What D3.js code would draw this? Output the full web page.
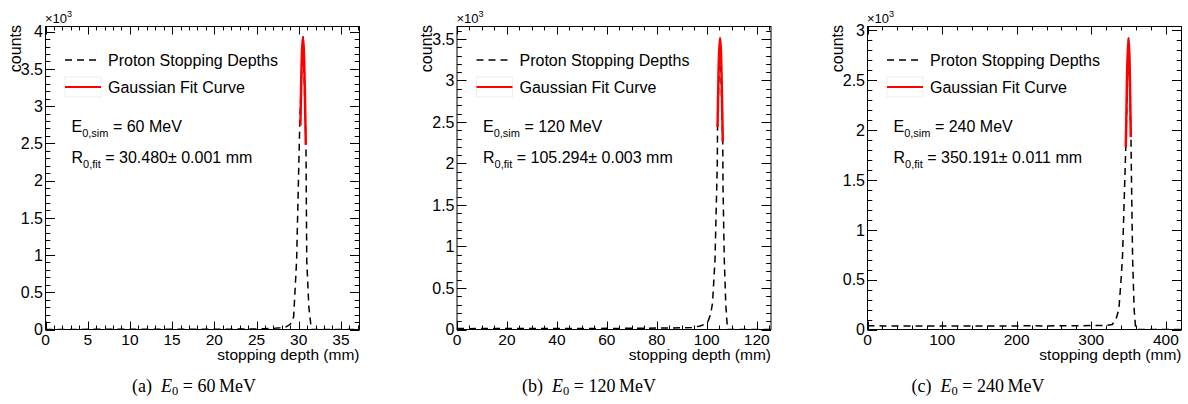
<!DOCTYPE html>
<html>
<head>
<meta charset="utf-8">
<script src="https://cdn.jsdelivr.net/npm/d3@7"></script>
<style>
  html, body { margin: 0; padding: 0; background: #fff; }
  svg { display: block; }
  text { font-family: "Liberation Sans", Arial, Helvetica, sans-serif; fill: #000; }
  .cap { font-family: "Liberation Serif", "DejaVu Serif", serif; }
</style>
</head>
<body>
<svg id="chart" width="1188" height="404"></svg>
<script>
// ---------- data (counts in units of 10^3) ----------
const panelLetters = ["a", "b", "c"];
const energies = [60, 120, 240];            // MeV
const fitRanges = ["30.480", "105.294", "350.191"];
const fitErrors = ["0.001", "0.003", "0.011"];
const xMax = [37.2, 125.7, 421];
const yMax = [4.07, 3.65, 3.04];
const xMajorStep = [5, 20, 100];
const xMinorStep = [1, 5, 20];
const yMajorStep = [0.5, 0.5, 0.5];
const yMinorStep = [0.1, 0.1, 0.1];

// (a) 60 MeV stopping depth histogram
const depthA  = [0, 3, 6, 9, 12, 15, 18, 20, 22, 24, 25, 26, 27, 27.8, 28.5, 29.0, 29.4, 29.75, 30.13, 30.52, 30.86, 30.95, 31.2, 31.5, 37.2];
const countsA = [0.001, 0.001, 0.002, 0.002, 0.002, 0.003, 0.003, 0.004, 0.005, 0.006, 0.007, 0.01, 0.015, 0.022, 0.035, 0.07, 0.17, 0.93, 2.8, 3.94, 2.45, 0.93, 0.3, 0.0, 0.0];
const fitDepthA  = [30.2, 30.3, 30.4, 30.5, 30.6, 30.7, 30.8, 30.84];
const fitCountsA = [2.74, 3.34, 3.77, 3.92, 3.77, 3.34, 2.74, 2.48];

// (b) 120 MeV
const depthB  = [0, 5, 10, 15, 20, 25, 30, 35, 40, 45, 50, 55, 60, 65, 70, 75, 80, 85, 90, 94, 97, 99, 100.5, 101.5, 102.3, 103.3, 104.2, 104.3, 105.3, 106.4, 106.5, 107.0, 107.6, 108.3, 125.7];
const countsB = [0.012, 0.010, 0.012, 0.011, 0.012, 0.011, 0.013, 0.012, 0.013, 0.012, 0.013, 0.013, 0.014, 0.013, 0.015, 0.015, 0.017, 0.018, 0.02, 0.025, 0.04, 0.06, 0.1, 0.18, 0.32, 0.85, 2.0, 2.45, 3.51, 2.23, 1.7, 0.84, 0.3, 0.0, 0.0];
const fitDepthB  = [104.3, 104.6, 104.9, 105.3, 105.6, 105.9, 106.2, 106.4];
const fitCountsB = [2.44, 2.93, 3.31, 3.51, 3.40, 3.08, 2.61, 2.26];

// (c) 240 MeV
const depthC  = [0, 20, 40, 60, 80, 100, 120, 140, 160, 180, 200, 220, 240, 260, 280, 300, 320, 328, 333, 337, 340, 342, 346.3, 350, 353.2, 354.5, 355.5, 357.5, 359.7, 421];
const countsC = [0.038, 0.036, 0.036, 0.035, 0.036, 0.036, 0.035, 0.036, 0.035, 0.036, 0.036, 0.037, 0.036, 0.037, 0.038, 0.039, 0.04, 0.05, 0.1, 0.2, 0.5, 0.75, 1.83, 2.93, 1.93, 1.2, 0.7, 0.2, 0.0, 0.0];
const fitDepthC  = [346.3, 347.3, 348.3, 349.9, 351.0, 352.0, 353.0];
const fitCountsC = [1.83, 2.23, 2.64, 2.92, 2.78, 2.45, 1.93];

const histX = [depthA, depthB, depthC];
const histY = [countsA, countsB, countsC];
const fitX = [fitDepthA, fitDepthB, fitDepthC];
const fitY = [fitCountsA, fitCountsB, fitCountsC];

const legendLabels = ["Proton Stopping Depths", "Gaussian Fit Curve"];
const xTitle = "stopping depth (mm)";
const yTitle = "counts";

// ---------- layout ----------
const frameLeft = [45.5, 457, 867.5];
const frameW = 314;
const frameTop = 26.5;
const frameBottom = 329.5;
const captionX = [194, 589, 978];

const svg = d3.select("#chart");

function ticksRange(step, max) {
  const out = [];
  const n = Math.floor(max / step + 1e-9);
  for (let i = 0; i <= n; i++) out.push(+(i * step).toFixed(6));
  return out;
}

for (let p = 0; p < 3; p++) {
  const L = frameLeft[p], R = L + frameW;
  const x = d3.scaleLinear().domain([0, xMax[p]]).range([L, R]);
  const y = d3.scaleLinear().domain([0, yMax[p]]).range([frameBottom, frameTop]);
  const g = svg.append("g");

  // ticks
  const xMaj = ticksRange(xMajorStep[p], xMax[p]);
  const xMin = ticksRange(xMinorStep[p], xMax[p]);
  const yMaj = ticksRange(yMajorStep[p], yMax[p]);
  const yMin = ticksRange(yMinorStep[p], yMax[p]);
  const tickG = g.append("g").attr("stroke", "#000").attr("stroke-width", 1);
  const xMajLen = 8, xMinLen = 4, yMajLen = 9.5, yMinLen = 4.8;
  xMin.forEach(v => {
    const isMaj = xMaj.some(m => Math.abs(m - v) < 1e-6);
    const len = isMaj ? xMajLen : xMinLen;
    const px = Math.round(x(v)) + 0.5;
    tickG.append("line").attr("x1", px).attr("x2", px).attr("y1", frameBottom).attr("y2", frameBottom - len);
    tickG.append("line").attr("x1", px).attr("x2", px).attr("y1", frameTop).attr("y2", frameTop + len);
  });
  yMin.forEach(v => {
    const isMaj = yMaj.some(m => Math.abs(m - v) < 1e-6);
    const len = isMaj ? yMajLen : yMinLen;
    const py = Math.round(y(v)) + 0.5;
    tickG.append("line").attr("x1", L).attr("x2", L + len).attr("y1", py).attr("y2", py);
    tickG.append("line").attr("x1", R).attr("x2", R - len).attr("y1", py).attr("y2", py);
  });

  // tick labels
  xMaj.forEach(v => {
    g.append("text").attr("x", x(v)).attr("y", 344.5).attr("text-anchor", "middle")
      .attr("font-size", 15.5).text(d3.format("~g")(v));
  });
  yMaj.forEach(v => {
    g.append("text").attr("x", L - 2.5).attr("y", y(v) + 5.7).attr("text-anchor", "end")
      .attr("font-size", 16).text(d3.format("~g")(v));
  });

  // exponent
  const ex = g.append("text").attr("x", L - 0.5).attr("y", 23).attr("font-size", 13);
  ex.append("tspan").text("\u00d710");
  ex.append("tspan").attr("font-size", 9).attr("dy", -6).text("3");

  // axis titles
  g.append("text").attr("x", R).attr("y", 359.5).attr("text-anchor", "end").attr("font-size", 15.5).text(xTitle);
  g.append("text").attr("transform", `translate(${L - 25},25) rotate(-90)`).attr("text-anchor", "end")
    .attr("font-size", 16).text(yTitle);

  // clip
  const clipId = "clip" + p;
  svg.append("clipPath").attr("id", clipId).append("rect")
    .attr("x", L).attr("y", frameTop).attr("width", frameW).attr("height", frameBottom - frameTop);

  const line = d3.line().x(d => x(d[0])).y(d => y(d[1]));
  const hist = histX[p].map((v, i) => [v, histY[p][i]]);
  const fit = fitX[p].map((v, i) => [v, fitY[p][i]]);

  g.append("path").attr("d", line(hist)).attr("fill", "none").attr("stroke", "#000")
    .attr("stroke-width", 1.5).attr("stroke-dasharray", "7,5").attr("clip-path", `url(#${clipId})`);
  g.append("path").attr("d", d3.line().curve(d3.curveCatmullRom).x(d => x(d[0])).y(d => y(d[1]))(fit))
    .attr("fill", "none").attr("stroke", "#ff0000").attr("stroke-width", 2.5)
    .attr("clip-path", `url(#${clipId})`);

  // frame
  g.append("rect").attr("x", L).attr("y", frameTop).attr("width", frameW).attr("height", frameBottom - frameTop)
    .attr("fill", "none").attr("stroke", "#000").attr("stroke-width", 1);

  // legend
  g.append("line").attr("x1", L + 19.5).attr("x2", L + 55).attr("y1", 60).attr("y2", 60)
    .attr("stroke", "#000").attr("stroke-width", 1.5).attr("stroke-dasharray", "7,5");
  g.append("text").attr("x", L + 62.5).attr("y", 66).attr("font-size", 16).text(legendLabels[0]);
  g.append("rect").attr("x", L + 19.5).attr("y", 77).attr("width", 36).attr("height", 20)
    .attr("fill", "none").attr("stroke", "#eeeeee").attr("stroke-width", 1);
  g.append("line").attr("x1", L + 19.5).attr("x2", L + 55.5).attr("y1", 87).attr("y2", 87)
    .attr("stroke", "#ff0000").attr("stroke-width", 2);
  g.append("text").attr("x", L + 62.5).attr("y", 93).attr("font-size", 16).text(legendLabels[1]);

  // annotation
  const t1 = g.append("text").attr("x", L + 26).attr("y", 132).attr("font-size", 16);
  t1.append("tspan").text("E");
  t1.append("tspan").attr("font-size", 11).attr("dy", 4.5).text("0,sim");
  t1.append("tspan").attr("dy", -4.5).text(` = ${energies[p]} MeV`);
  const t2 = g.append("text").attr("x", L + 26).attr("y", 163).attr("font-size", 16);
  t2.append("tspan").text("R");
  t2.append("tspan").attr("font-size", 11).attr("dy", 4.5).text("0,fit");
  t2.append("tspan").attr("dy", -4.5).text(` = ${fitRanges[p]}\u00b1 ${fitErrors[p]} mm`);

  // caption
  const c = svg.append("text").attr("class", "cap").attr("x", captionX[p]).attr("y", 392)
    .attr("text-anchor", "middle").attr("font-size", 18);
  c.append("tspan").text(`(${panelLetters[p]})\u2002`);
  c.append("tspan").attr("font-style", "italic").text("E");
  c.append("tspan").attr("font-size", 12.5).attr("dy", 3).text("0");
  c.append("tspan").attr("dy", -3).text(` = ${energies[p]}\u2009MeV`);
}
</script>
</body>
</html>
